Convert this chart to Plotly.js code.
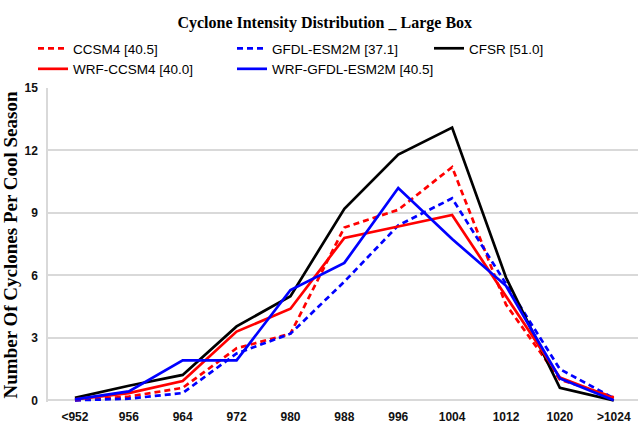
<!DOCTYPE html>
<html>
<head>
<meta charset="utf-8">
<script src="https://cdn.plot.ly/plotly-3.0.1.min.js"></script>
<style>html,body{margin:0;padding:0;background:#fff;}#chart{width:638px;height:425px;}</style>
</head>
<body>
<div id="chart"></div>
<script>
const categories = ['<952','956','964','972','980','988','996','1004','1012','1020','>1024'];
const ccsm4 = [0.0, 0.18, 0.6, 2.5, 3.2, 8.3, 9.15, 11.2, 4.6, 1.0, 0.15];
const gfdl = [0.0, 0.08, 0.35, 2.25, 3.2, 5.7, 8.4, 9.7, 5.6, 1.5, 0.1];
const cfsr = [0.12, 0.7, 1.22, 3.55, 5.0, 9.2, 11.8, 13.1, 5.9, 0.6, 0.0];
const wrfCcsm4 = [0.05, 0.35, 0.93, 3.3, 4.4, 7.8, 8.35, 8.9, 5.0, 1.1, 0.1];
const wrfGfdl = [0.05, 0.43, 1.92, 1.92, 5.3, 6.6, 10.2, 7.75, 5.5, 1.05, 0.0];
const names = ['CCSM4 [40.5]','GFDL-ESM2M [37.1]','CFSR [51.0]','WRF-CCSM4 [40.0]','WRF-GFDL-ESM2M [40.5]'];

const series = [ccsm4, gfdl, cfsr, wrfCcsm4, wrfGfdl];
const colors = ['#ff0000','#0000ff','#000000','#ff0000','#0000ff'];
const dashes = ['6px,4px','6px,4px','solid','solid','solid'];
const legendOf = ['legend','legend2','legend3','legend','legend2'];

const traces = series.map((ys, i) => ({
  type: 'scatter', mode: 'lines', x: categories, y: ys, name: names[i],
  line: {color: colors[i], width: 2.7, dash: dashes[i]},
  legend: legendOf[i], legendgroup: 'g' + i, showlegend: true
}));

const legFont = {family: 'Liberation Sans, Arial', size: 13.5, color: '#000'};
const legBase = {orientation: 'v', xanchor: 'left', yanchor: 'top',
  font: legFont, bgcolor: 'rgba(0,0,0,0)', tracegroupgap: 0, itemwidth: 30};

const legY = (425 - 23 - 33) / 314;
const layout = {
  width: 638, height: 425,
  margin: {l: 48, r: 0, t: 88, b: 23, autoexpand: false},
  paper_bgcolor: '#fff', plot_bgcolor: '#fff',
  title: {text: '<b>Cyclone Intensity Distribution _ Large Box</b>', x: 0.509, xanchor: 'center', y: 1 - 22/425, yanchor: 'middle',
    font: {family: 'Liberation Serif, Times New Roman, serif', size: 16, color: '#000'}},
  showlegend: true,
  legend: Object.assign({}, legBase, {x: (33 - 48) / 590, y: legY}),
  legend2: Object.assign({}, legBase, {x: (232 - 48) / 590, y: legY}),
  legend3: Object.assign({}, legBase, {x: (429 - 48) / 590, y: legY}),
  xaxis: {type: 'category', range: [-0.5, 10.45], showgrid: false, zeroline: false, showline: false,
    ticks: '', ticklabelstandoff: 6,
    tickfont: {family: 'Liberation Sans, Arial', size: 12, color: '#111', weight: 'bold'}},
  yaxis: {range: [-0.08, 15], tickvals: [0,3,6,9,12,15], showgrid: true, gridcolor: '#d9d9d9', gridwidth: 1.5,
    zeroline: true, zerolinecolor: '#d9d9d9', zerolinewidth: 1.5, showline: true, linecolor: '#d9d9d9', linewidth: 1.5,
    ticks: '', ticklabelstandoff: 6,
    tickfont: {family: 'Liberation Sans, Arial', size: 12, color: '#111', weight: 'bold'},
    title: {text: '<b>Number Of Cyclones Per Cool Season</b>', standoff: 6,
      font: {family: 'Liberation Serif, Times New Roman, serif', size: 19, color: '#000'}}}
};

Plotly.newPlot('chart', traces, layout, {displayModeBar: false});
</script>
</body>
</html>
